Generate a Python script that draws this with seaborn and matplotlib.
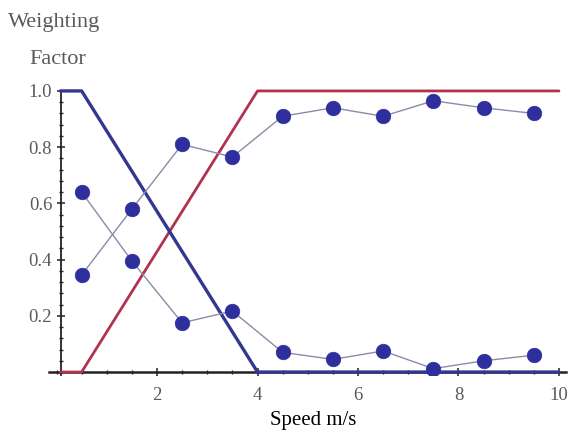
import numpy as np
import pandas as pd
import matplotlib
matplotlib.use("Agg")
import matplotlib.pyplot as plt
import seaborn as sns
from matplotlib.ticker import MultipleLocator

# Membership-style weighting functions
ramp_x = [0.08, 0.5, 4.0, 10.0]
low_weight = [1.0, 1.0, 0.0, 0.0]
high_weight = [0.0, 0.0, 1.0, 1.0]

# Observed weighting factors per speed bin
speed = [0.5, 1.5, 2.5, 3.5, 4.5, 5.5, 6.5, 7.5, 8.5, 9.5]
high_obs = [0.345, 0.58, 0.81, 0.765, 0.91, 0.94, 0.91, 0.965, 0.94, 0.92]
low_obs = [0.64, 0.395, 0.175, 0.217, 0.07, 0.045, 0.075, 0.012, 0.04, 0.06]

x_ticks = [2, 4, 6, 8, 10]
y_ticks = [0.2, 0.4, 0.6, 0.8, 1.0]

sns.set_style("white")
plt.rcParams["font.family"] = ["Liberation Serif", "DejaVu Serif"]

ramps = pd.DataFrame({"x": ramp_x, "low": low_weight, "high": high_weight})
obs = pd.DataFrame({"speed": speed, "high": high_obs, "low": low_obs})

fig = plt.figure(figsize=(5.69, 4.32), dpi=100)
ax = fig.add_axes([0.0861, 0.131, 0.9095, 0.665])

navy = "#34378f"
crimson = "#b0324f"
dot = "#2e2f9c"
thin = "#8c8aa8"

sns.lineplot(data=ramps, x="x", y="high", ax=ax, color=crimson, lw=2.0,
             sort=False, zorder=3)
sns.lineplot(data=ramps, x="x", y="low", ax=ax, color=navy, lw=2.4,
             sort=False, zorder=4)
for col in ["high", "low"]:
    sns.lineplot(data=obs, x="speed", y=col, ax=ax, color=thin, lw=1.0,
                 sort=False, zorder=5)
    sns.scatterplot(data=obs, x="speed", y=col, ax=ax, color=dot, s=110,
                    edgecolor=dot, linewidth=0.5, zorder=6)

ax.set_xlim(-0.15, 10.15)
ax.set_ylim(-0.012, 1.01)

for s in ["top", "right"]:
    ax.spines[s].set_visible(False)
ax.spines["left"].set_position(("data", 0.08))
ax.spines["bottom"].set_position(("data", 0.0))
ax.spines["left"].set_color("#222222")
ax.spines["bottom"].set_color("#222222")
ax.spines["left"].set_linewidth(1.3)
ax.spines["bottom"].set_linewidth(1.8)
ax.spines["left"].set_bounds(-0.012, 1.0)

ax.set_xticks(x_ticks)
ax.set_xticklabels([str(t) for t in x_ticks])
ax.set_yticks(y_ticks)
ax.set_yticklabels([f"{t:.1f}" for t in y_ticks])
ax.xaxis.set_minor_locator(MultipleLocator(0.5))
ax.yaxis.set_minor_locator(MultipleLocator(0.04))
ax.tick_params(bottom=True, left=True, which="both")
ax.tick_params(axis="both", which="major", direction="inout", length=6,
               width=1.1, color="#222222", labelsize=13.5, labelcolor="#5a5a5a")
ax.tick_params(axis="both", which="minor", direction="inout", length=3.5,
               width=1.0, color="#222222")
ax.tick_params(axis="x", pad=8)
ax.tick_params(axis="y", pad=3)

ax.set_xlabel("")
ax.set_ylabel("")
ax.grid(False)

fig.text(8 / 569, 1 - 23 / 432, "Weighting", fontsize=16, color="#5a5a5a",
         ha="left", va="center")
fig.text(29 / 569, 1 - 60 / 432, "Factor", fontsize=16, color="#5a5a5a",
         ha="left", va="center")
fig.text(313 / 569, 1 - 420 / 432, "Speed m/s", fontsize=15, color="black",
         ha="center", va="center")

fig.savefig("out.png", dpi=100)
